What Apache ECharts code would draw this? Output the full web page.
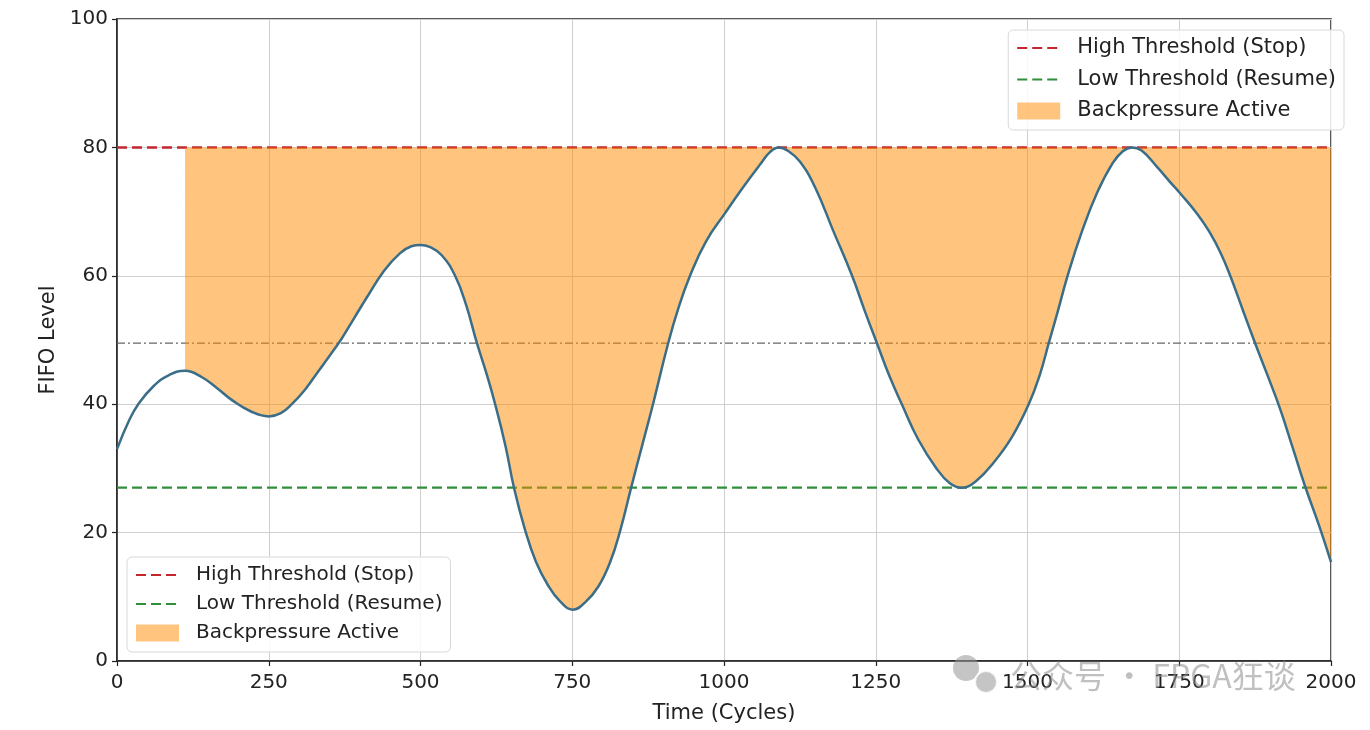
<!DOCTYPE html>
<html>
<head>
<meta charset="utf-8">
<script src="https://cdn.jsdelivr.net/npm/echarts@6/dist/echarts.min.js"></script>
<style>
html,body{margin:0;padding:0;background:#fff;}
#chart{width:1370px;height:730px;}
</style>
</head>
<body>
<div id="chart"></div>
<script>
// ---- data ----
const xTicks = [0, 250, 500, 750, 1000, 1250, 1500, 1750, 2000];
const yTicks = [0, 20, 40, 60, 80, 100];
const timeCycles = [0,20,35,60,85,112,140,165,190,220,250,270,288,310,330,350,370,390,412,440,466,485,500,515,535,557,575,593,608,623,640,654,672,690,710,730,751,772,793,812,829,847,865,883,908,925,944,970,1002,1030,1060,1076,1090,1105,1125,1150,1180,1211,1232,1252,1272,1293,1320,1350,1372,1392,1415,1445,1475,1502,1520,1535,1550,1566,1590,1615,1640,1657,1672,1688,1713,1735,1751,1780,1800,1818,1834,1855,1875,1895,1916,1937,1957,1980,2000];
const fifoLevel = [33,37.5,40,42.8,44.5,45.2,44.2,42.5,40.6,38.9,38.1,38.6,40,42.3,44.9,47.5,50.2,53.3,56.7,60.8,63.5,64.6,64.8,64.5,63.2,60,55.5,49.5,45,40,33.5,27,20.5,15.5,11.8,9.3,8,9.2,11.6,15.3,20.3,27,33.5,40,49.5,55,60,65.3,69.8,73.6,77.4,79.3,80,79.5,77.8,73.8,67,60,54.5,49.5,44.5,40,34.5,30,27.7,27,28,31,35,40,44.5,49.5,54.5,60,67,73,77.5,79.4,80,79.5,77,74.6,72.9,69.6,66.8,63.6,60,54.6,49.5,44.6,39.3,33.2,27.3,21.2,15.4];
const highThreshold = 80;
const lowThreshold = 27;
const midLevel = 49.5;
const backpressureStart = 112;
const legendNames = ['High Threshold (Stop)', 'Low Threshold (Resume)', 'Backpressure Active'];

// ---- build ----
const X_MIN = xTicks[0], X_MAX = xTicks[xTicks.length - 1];
const Y_MIN = yTicks[0], Y_MAX = yTicks[yTicks.length - 1];
const curve = timeCycles.map((t, i) => [t, fifoLevel[i]]);
const fillData = curve.filter(p => p[0] >= backpressureStart);
const hLine = v => [[X_MIN, v], [X_MAX, v]];

const FILL = 'rgba(255,140,0,0.5)';
const RED = '#c4262e';
const GREEN = '#2f8f3a';
const FONT = 'DejaVu Sans';
const SMOOTH = 0.45;

function makeLegend(pos, fontSize, gap) {
  return Object.assign({
    orient: 'vertical',
    itemWidth: 43,
    itemHeight: 17,
    itemGap: gap,
    padding: [7, 8, 8, 8],
    backgroundColor: 'rgba(255,255,255,0.85)',
    borderColor: '#d8d8d8',
    borderWidth: 1,
    borderRadius: 5,
    selectedMode: false,
    textStyle: { fontFamily: FONT, fontSize: fontSize, color: '#222', lineHeight: 22, padding: [0, 0, 0, 12] },
    data: [
      { name: legendNames[0], itemStyle: { opacity: 0 } },
      { name: legendNames[1], itemStyle: { opacity: 0 } },
      { name: legendNames[2], icon: 'rect', itemStyle: { color: FILL, borderWidth: 0 } }
    ]
  }, pos);
}

const chart = echarts.init(document.getElementById('chart'), null, { renderer: 'canvas' });
chart.setOption({
  animation: false,
  backgroundColor: '#fff',
  textStyle: { fontFamily: FONT },
  grid: { left: 117, right: 39, top: 19, bottom: 69, show: true, borderColor: '#222', borderWidth: 1.5, backgroundColor: 'transparent' },
  legend: [
    makeLegend({ right: 26, top: 30 }, 21, 9.5),
    makeLegend({ left: 127, top: 557 }, 20, 7)
  ],
  xAxis: {
    type: 'value', min: X_MIN, max: X_MAX, interval: xTicks[1] - xTicks[0],
    name: 'Time (Cycles)', nameLocation: 'middle', nameGap: 42,
    nameTextStyle: { fontFamily: FONT, fontSize: 21, color: '#222' },
    axisLine: { show: true, lineStyle: { color: '#222', width: 1.5 } },
    axisTick: { show: true, inside: false, length: 5, lineStyle: { color: '#222', width: 1.2 } },
    axisLabel: { fontFamily: FONT, fontSize: 20, color: '#222', margin: 12, formatter: v => String(v) },
    splitLine: { show: true, lineStyle: { color: '#cfcfcf', width: 1 } }
  },
  yAxis: {
    type: 'value', min: Y_MIN, max: Y_MAX, interval: yTicks[1] - yTicks[0],
    name: 'FIFO Level', nameLocation: 'middle', nameGap: 58,
    nameTextStyle: { fontFamily: FONT, fontSize: 21, color: '#222' },
    axisLine: { show: true, lineStyle: { color: '#222', width: 1.5 } },
    axisTick: { show: true, inside: false, length: 5, lineStyle: { color: '#222', width: 1.2 } },
    axisLabel: { fontFamily: FONT, fontSize: 20, color: '#222', margin: 9, formatter: v => String(v) },
    splitLine: { show: true, lineStyle: { color: '#cfcfcf', width: 1 } }
  },
  series: [
    {
      name: legendNames[0], type: 'line', data: hLine(highThreshold), symbol: 'none', z: 2,
      itemStyle: { color: RED },
      lineStyle: { color: RED, width: 2.5, type: [10, 5] }
    },
    {
      name: legendNames[1], type: 'line', data: hLine(lowThreshold), symbol: 'none', z: 2,
      itemStyle: { color: GREEN },
      lineStyle: { color: GREEN, width: 2.2, type: [10, 5] }
    },
    {
      name: 'mid', type: 'line', data: hLine(midLevel), symbol: 'none', z: 2,
      lineStyle: { color: '#666666', width: 1.2, type: [8, 3, 2, 3] }
    },
    {
      name: legendNames[2], type: 'line', data: fillData, symbol: 'none', smooth: SMOOTH, z: 3,
      itemStyle: { color: FILL },
      lineStyle: { width: 0, opacity: 0 },
      areaStyle: { color: FILL, opacity: 1, origin: highThreshold }
    },
    {
      name: 'FIFO Level', type: 'line', data: curve, symbol: 'none', smooth: SMOOTH, z: 4,
      lineStyle: { color: '#3a6e88', width: 2.5 }
    }
  ],
  graphic: [
    { type: 'circle', shape: { cx: 966, cy: 668, r: 13 }, style: { fill: 'rgba(150,150,150,0.55)' }, z: 10 },
    { type: 'circle', shape: { cx: 986, cy: 682, r: 11 }, style: { fill: 'rgba(150,150,150,0.55)', stroke: 'rgba(255,255,255,0.8)', lineWidth: 2 }, z: 10 },
    { type: 'text', left: 1010, top: 660, z: 10,
      style: { text: '公众号 · FPGA狂谈', fontFamily: 'Noto Sans CJK SC', fontSize: 32, fill: 'rgba(140,140,140,0.55)' } }
  ]
});
</script>
</body>
</html>
